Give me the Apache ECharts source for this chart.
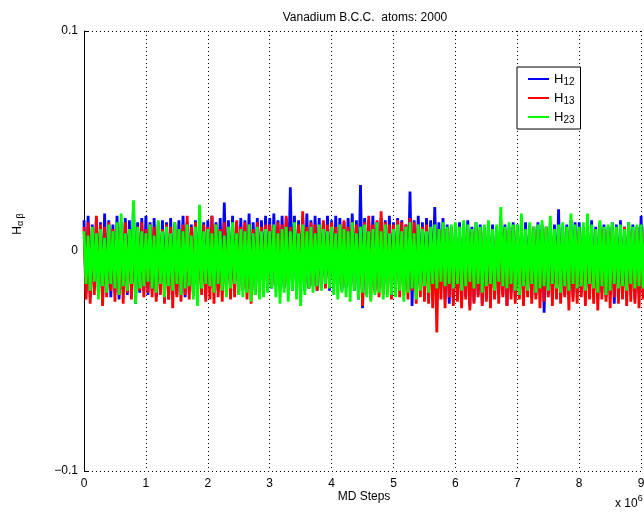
<!DOCTYPE html>
<html>
<head>
<meta charset="utf-8">
<script src="https://cdn.jsdelivr.net/npm/echarts@6/dist/echarts.min.js"></script>
<style>
html, body { margin: 0; padding: 0; background: #fff; }
#main { width: 644px; height: 512px; }
</style>
</head>
<body>
<div id="main"></div>
<script>
// H values, in units of 1e-3, 30 samples per 1e6 MD steps
var h12 = [
  14,-19,16,-21,12,-17,15,-20,13,-23,17,-18,14,-21,12,-19,16,-22,13,-18,15,-20,14,-17,22,-24,13,-19,15,-18,
  16,-20,13,-18,15,-21,12,-19,14,-17,13,-22,15,-18,12,-20,14,-19,16,-21,13,-18,12,-20,14,-19,15,-17,13,-21,
  14,-17,16,-16,13,-18,15,-17,22,-16,14,-18,16,-17,13,-16,15,-18,14,-17,17,-16,13,-18,15,-17,14,-16,16,-18,
  15,-17,17,-16,14,-18,16,-17,15,-16,29,-18,16,-17,14,-16,15,-18,17,-17,14,-16,16,-18,15,-17,13,-16,16,-18,
  14,-17,16,-16,15,-18,13,-17,15,-16,17,-18,14,-22,30,-26,15,-17,14,-16,16,-18,13,-17,15,-16,14,-18,16,-17,
  13,-17,15,-16,14,-18,12,-17,27,-25,14,-16,16,-17,13,-18,15,-16,14,-17,20,-18,13,-16,15,-22,12,-24,11,-23,
  11,-22,13,-24,12,-21,14,-25,11,-23,13,-20,12,-24,11,-22,13,-19,12,-21,11,-18,13,-20,12,-25,11,-19,13,-21,
  12,-20,11,-22,13,-19,12,-21,11,-20,13,-19,12,-28,11,-20,13,-21,12,-19,19,-22,11,-20,12,-18,14,-21,13,-19,
  13,-19,11,-21,12,-20,14,-18,11,-22,13,-19,12,-21,11,-20,13,-24,12,-19,14,-21,11,-20,13,-18,12,-22,11,-19,
  16,-20,12,-18,13,-21,11,-19,12,-22,14,-20,11,-18,13,-21,12,-19,11,-20,13,-22,12,-19,14,-18,11,-21,13,-20
];
var h13 = [
  11,-22,13,-24,10,-20,16,-19,12,-25,11,-21,13,-18,10,-23,12,-20,11,-24,13,-19,10,-22,12,-20,11,-18,13,-21,
  10,-19,12,-21,11,-23,13,-20,10,-24,12,-22,11,-26,13,-21,10,-23,12,-20,16,-22,11,-19,13,-21,10,-20,12,-23,
  11,-22,16,-24,12,-21,10,-23,13,-20,11,-22,12,-21,14,-20,11,-17,13,-22,12,-24,10,-20,13,-17,11,-16,12,-18,
  12,-16,11,-15,13,-17,12,-16,16,-18,11,-15,13,-17,12,-16,18,-15,11,-17,13,-16,12,-18,11,-15,14,-17,12,-16,
  13,-16,11,-15,12,-17,14,-16,11,-15,13,-17,12,-16,11,-25,13,-20,16,-22,12,-19,14,-21,18,-20,13,-18,12,-22,
  12,-19,14,-21,13,-20,12,-22,15,-18,13,-24,12,-21,11,-23,12,-24,10,-26,11,-37,10,-22,11,-26,10,-21,11,-25,
  10,-23,9,-26,11,-22,10,-27,9,-24,11,-21,10,-25,9,-23,11,-26,10,-22,9,-24,11,-21,10,-25,9,-22,11,-24,
  10,-22,11,-25,9,-21,10,-24,11,-22,9,-26,10,-23,11,-21,9,-25,10,-22,11,-24,9,-21,10,-27,11,-23,9,-24,
  10,-21,9,-25,11,-22,10,-24,9,-27,11,-22,10,-23,9,-26,11,-21,10,-24,9,-22,11,-25,10,-23,9,-24,11,-26,
  9,-22,11,-24,10,-21,9,-25,11,-23,10,-22,9,-24,11,-21,10,-26,9,-23,11,-22,10,-25,9,-21,11,-24,10,-22
];
var h23 = [
  9,-15,7,-18,11,-14,8,-22,10,-16,6,-19,12,-15,9,-17,13,-20,17,-16,8,-18,10,-15,23,-24,11,-17,9,-16,
  8,-14,12,-17,7,-19,14,-15,9,-21,11,-16,8,-18,13,-15,10,-20,9,-17,12,-16,7,-22,11,-25,21,-17,9,-15,
  10,-16,8,-19,12,-15,9,-18,7,-21,11,-17,13,-15,8,-20,10,-21,9,-19,12,-23,8,-20,11,-22,9,-21,10,-19,
  9,-17,12,-21,8,-24,10,-19,11,-23,9,-18,13,-22,8,-25,12,-20,9,-17,11,-19,8,-16,12,-18,10,-15,9,-17,
  11,-20,8,-22,12,-19,10,-21,9,-23,13,-18,8,-22,11,-19,12,-21,9,-23,10,-20,13,-19,9,-22,12,-21,8,-20,
  10,-21,12,-18,9,-23,11,-19,13,-17,8,-22,12,-18,10,-16,9,-19,11,-15,12,-17,10,-14,13,-16,11,-15,12,-17,
  13,-15,11,-18,14,-16,12,-14,10,-17,13,-15,11,-19,12,-16,14,-15,10,-18,12,-14,20,-16,11,-17,13,-15,12,-18,
  12,-20,17,-16,10,-18,13,-15,11,-19,12,-17,14,-16,11,-18,16,-15,10,-17,12,-19,13,-16,11,-18,17,-15,12,-17,
  11,-16,13,-18,17,-15,12,-17,10,-19,14,-16,11,-20,12,-18,13,-15,11,-17,12,-16,10,-18,13,-15,11,-17,12,-16,
  12,-17,11,-15,13,-18,10,-16,12,-17,11,-19,13,-15,12,-16,10,-18,11,-17,13,-15,12,-16,11,-18,12,-17,10,-16
];
var seriesNames = ['H12', 'H13', 'H23'];
var seriesColors = ['#0000ff', '#ff0000', '#00ff00'];
var xTickLabels = ['0', '1', '2', '3', '4', '5', '6', '7', '8', '9', '10'];
var yTickLabels = { '-0.1': '\u22120.1', '0': '0', '0.1': '0.1' };
var samplesPerUnit = 30;

function toPairs(vals) {
    return vals.map(function (v, i) { return [i / samplesPerUnit, v / 1000]; });
}

var myChart = echarts.init(document.getElementById('main'));
var font = '"Liberation Sans", Arial, Helvetica, sans-serif';

var option = {
    animation: false,
    backgroundColor: '#fff',
    // the plot runs on past the right edge of the picture (x = 10 sits off canvas)
    grid: { left: 84, top: 31, width: 619, height: 440, containLabel: false, outerBoundsMode: 'none' },
    xAxis: {
        type: 'value', min: 0, max: 10, interval: 1,
        axisLine: { lineStyle: { color: '#000', width: 1 } },
        axisTick: { inside: true, length: 5, lineStyle: { color: '#000' } },
        axisLabel: {
            color: '#000', fontSize: 12, fontFamily: font, margin: 7,
            formatter: function (v) { return xTickLabels[Math.round(v)]; }
        },
        splitLine: { show: true, lineStyle: { color: '#000', type: [1, 3], width: 1 } }
    },
    yAxis: {
        type: 'value', min: -0.1, max: 0.1, interval: 0.1,
        axisLine: { show: true, lineStyle: { color: '#000', width: 1 } },
        axisTick: { inside: true, length: 5, lineStyle: { color: '#000' } },
        axisLabel: {
            color: '#000', fontSize: 12, fontFamily: font, margin: 6,
            formatter: function (v) { return yTickLabels[String(Math.round(v * 10) / 10)]; }
        },
        splitLine: { show: true, lineStyle: { color: '#000', type: [1, 3], width: 1 } }
    },
    legend: {
        left: 517, top: 67, orient: 'vertical',
        data: seriesNames.map(function (n) { return { name: n, icon: 'rect' }; }),
        backgroundColor: '#fff',
        borderColor: '#000', borderWidth: 1,
        padding: [4, 6, 4, 11],
        itemWidth: 21, itemHeight: 2, itemGap: 3,
        formatter: function (name) { return 'H{s|' + name.slice(1) + '}'; },
        textStyle: {
            color: '#000', fontSize: 13, fontFamily: font, lineHeight: 16,
            rich: { s: { fontSize: 10, fontFamily: font, verticalAlign: 'bottom', padding: [8, 0, 0, 0] } }
        }
    },
    series: seriesNames.map(function (name, k) {
        return {
            name: name, type: 'line',
            data: toPairs([h12, h13, h23][k]),
            symbol: 'none', silent: true,
            lineStyle: { color: seriesColors[k], width: 2.8, join: 'bevel' },
            itemStyle: { color: seriesColors[k] }
        };
    }),
    graphic: [
        {
            type: 'text', x: 365, y: 18,
            style: { text: 'Vanadium B.C.C.  atoms: 2000', fill: '#000', font: '12px ' + font, textAlign: 'center', textVerticalAlign: 'middle' }
        },
        {
            type: 'text', x: 364, y: 497,
            style: { text: 'MD Steps', fill: '#000', font: '12px ' + font, textAlign: 'center', textVerticalAlign: 'middle' }
        },
        {
            type: 'text', x: 615, y: 494,
            style: {
                text: '{a|x 10}{b|6}', fill: '#000', textVerticalAlign: 'top',
                rich: { a: { fontSize: 12, fontFamily: font, padding: [4, 0, 0, 0] }, b: { fontSize: 9, fontFamily: font, verticalAlign: 'top' } }
            }
        },
        {
            type: 'text', x: 18, y: 224, rotation: Math.PI / 2,
            style: {
                text: '{h|H}{s|\u03b1 \u03b2}', fill: '#000', textAlign: 'center', textVerticalAlign: 'middle',
                rich: { h: { fontSize: 12, fontFamily: font }, s: { fontSize: 9, fontFamily: font, padding: [6, 0, 0, 0] } }
            }
        }
    ]
};

myChart.setOption(option);
window.addEventListener('resize', function () { myChart.resize(); });
</script>
</body>
</html>
